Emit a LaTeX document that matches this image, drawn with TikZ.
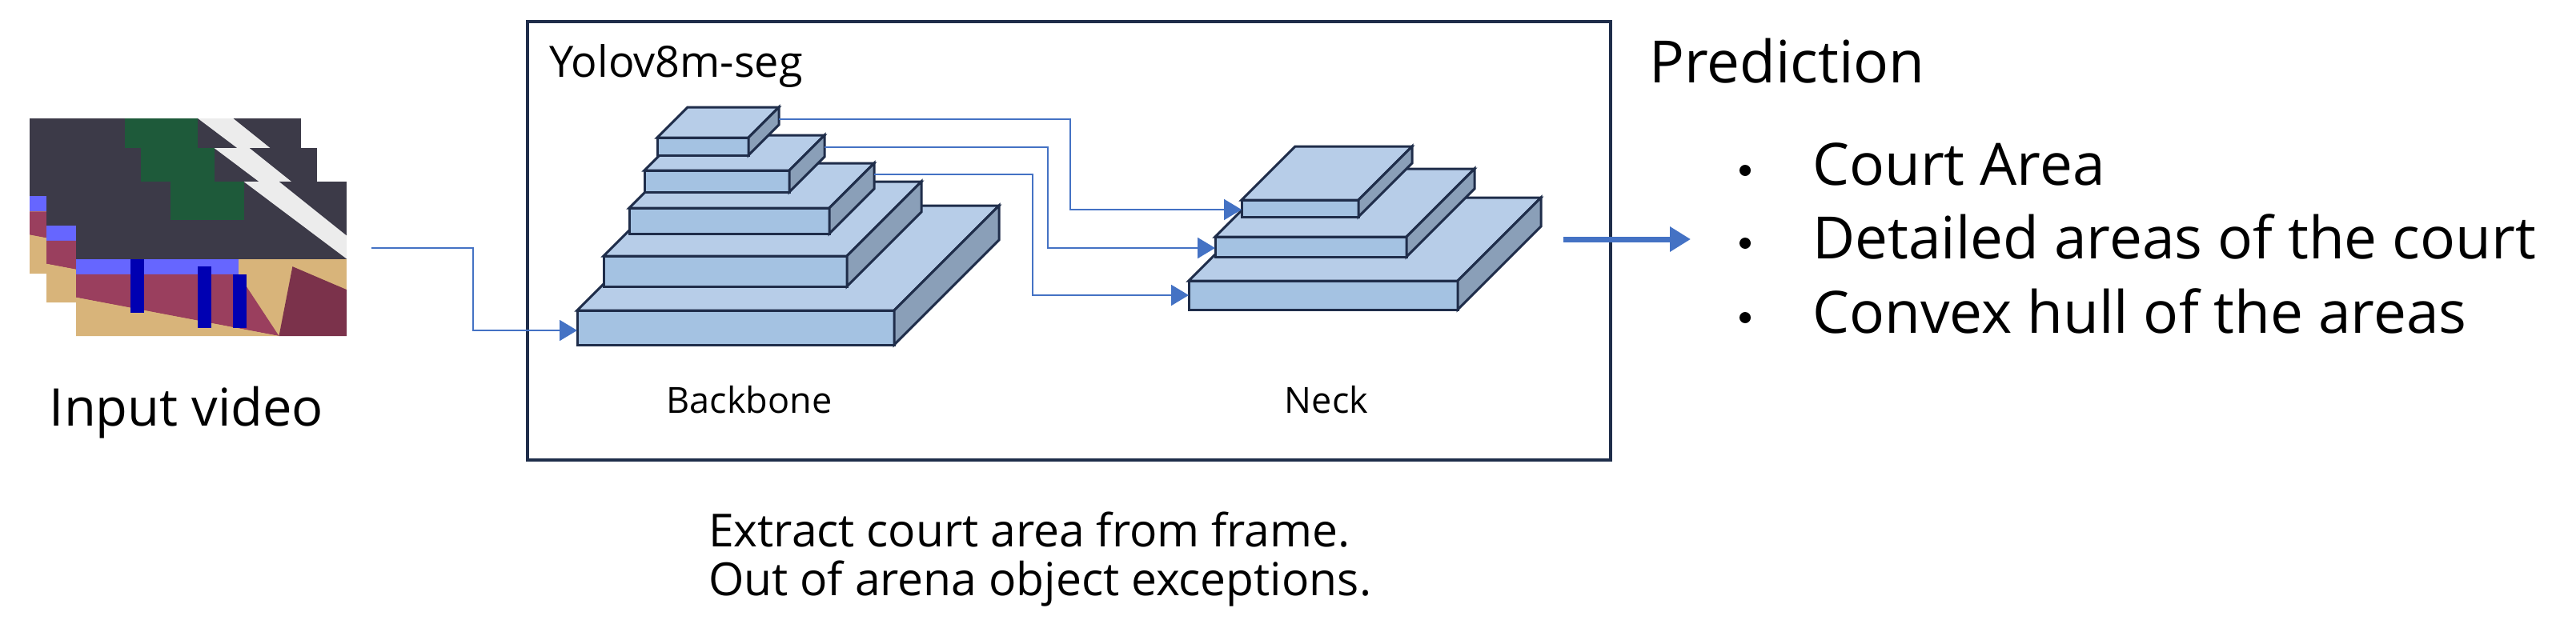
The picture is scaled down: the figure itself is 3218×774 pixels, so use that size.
\documentclass[tikz,border=0pt]{standalone}
\usepackage{fontspec}
\setmainfont{Open Sans}
\usetikzlibrary{arrows.meta}
\definecolor{fr}{HTML}{A4C2E2}
\definecolor{tp}{HTML}{B7CDE8}
\definecolor{sd}{HTML}{8A9FB8}
\definecolor{ol}{HTML}{1F2D4A}
\definecolor{bl}{HTML}{4472C4}
\definecolor{crowd}{HTML}{3C3A48}
\definecolor{court}{HTML}{D8B47A}
\definecolor{maroon}{HTML}{9A3F5E}
\definecolor{grn}{HTML}{1E5A3A}
\newcommand\mycub[5]{% x1 x2 ytop h d
 \filldraw[fill=fr,draw=ol,line width=3pt,line join=miter] (#1,#3) rectangle (#2,#3+#4);
 \filldraw[fill=tp,draw=ol,line width=3pt] (#1,#3) -- (#1+#5,#3-#5) -- (#2+#5,#3-#5) -- (#2,#3) -- cycle;
 \filldraw[fill=sd,draw=ol,line width=3pt] (#2,#3) -- (#2+#5,#3-#5) -- (#2+#5,#3-#5+#4) -- (#2,#3+#4) -- cycle;}
\newcommand\myframe[4]{% x1 y1 x2 y2
 \fill[court] (#1,#2) rectangle (#3,#4);
 \fill[crowd] (#1,#2) rectangle (#3,{#2+0.5*(#4-#2)});
 \fill[grn] ({#1+0.35*(#3-#1)},#2) rectangle ({#1+0.62*(#3-#1)},{#2+0.25*(#4-#2)});
 \fill[white!85!gray] ({#1+0.62*(#3-#1)},#2) -- ({#1+0.75*(#3-#1)},#2) -- (#3,{#2+0.35*(#4-#2)}) -- (#3,{#2+0.5*(#4-#2)}) -- cycle;
 \fill[blue!60!white] (#1,{#2+0.5*(#4-#2)}) rectangle ({#1+0.6*(#3-#1)},{#2+0.6*(#4-#2)});
 \fill[maroon] (#1,{#2+0.6*(#4-#2)}) -- ({#1+0.6*(#3-#1)},{#2+0.6*(#4-#2)}) -- ({#1+0.75*(#3-#1)},#4) -- (#1,{#2+0.75*(#4-#2)}) -- cycle;
 \fill[court] (#1,{#2+0.75*(#4-#2)}) -- ({#1+0.75*(#3-#1)},#4) -- (#1,#4) -- cycle;
 \fill[maroon!80!black] ({#1+0.75*(#3-#1)},#4) -- ({#1+0.8*(#3-#1)},{#2+0.55*(#4-#2)}) -- (#3,{#2+0.7*(#4-#2)}) -- (#3,#4) -- cycle;
 \fill[blue!70!black] ({#1+0.45*(#3-#1)},{#2+0.55*(#4-#2)}) rectangle ({#1+0.5*(#3-#1)},{#2+0.95*(#4-#2)});
 \fill[blue!70!black] ({#1+0.58*(#3-#1)},{#2+0.6*(#4-#2)}) rectangle ({#1+0.63*(#3-#1)},{#2+0.95*(#4-#2)});
 \fill[blue!70!black] ({#1+0.2*(#3-#1)},{#2+0.5*(#4-#2)}) rectangle ({#1+0.25*(#3-#1)},{#2+0.85*(#4-#2)});}
\begin{document}
\begin{tikzpicture}[x=1pt,y=-1pt,
  conn/.style={draw=bl,line width=2pt,-{Triangle[length=22pt,width=26pt]}},
  lab/.style={inner sep=0pt,font=\fontsize{#1}{#1}\selectfont},
  bul/.style={circle,fill=black,inner sep=0pt,minimum size=14pt}]
\useasboundingbox (0,0) rectangle (3218,774);
% frames
\myframe{37}{148}{376}{342}
\myframe{58}{185}{396}{378}
\myframe{95}{227}{433}{420}
\node[lab=65,anchor=center] (iv) at (233,516) {Input video};
\coordinate (vidout) at (464,310);
% main box
\node[draw=ol,line width=3.5pt,minimum width=1353pt,minimum height=548pt,anchor=north west,inner sep=0pt] (box) at (657,25) {};
\node[lab=54,anchor=west] (yolo) at (686,82) {Yolov8m-seg};
% backbone
\mycub{721}{1117}{388}{43}{131}
\mycub{754}{1058}{320}{38}{93}
\mycub{786}{1036}{260}{32}{56}
\mycub{805}{986}{213}{27}{44}
\mycub{821}{935}{172}{22}{38}
\coordinate (bbin) at (721,413);
\coordinate (o1) at (973,149);
\coordinate (o2) at (1030,184);
\coordinate (o3) at (1092,218);
% neck
\mycub{1485}{1821}{351}{36}{104}
\mycub{1518}{1757}{296}{25}{85}
\mycub{1551}{1697}{250}{21}{67}
\coordinate (n1) at (1551,262);
\coordinate (n2) at (1518,310);
\coordinate (n3) at (1485,369);
\node[lab=45] (bb) at (936,500) {Backbone};
\node[lab=45] (nk) at (1657,500) {Neck};
% connectors
\draw[conn] (vidout) -| (591,413) -- (bbin);
\draw[conn] (o1) -| (1337,262) -- (n1);
\draw[conn] (o2) -| (1309,310) -- (n2);
\draw[conn] (o3) -| (1290,369) -- (n3);
\coordinate (outs) at (1953,299);
\coordinate (oute) at (2112,299);
\draw[draw=bl,line width=7pt,-{Triangle[length=26pt,width=30pt]}] (outs) -- (oute);
% prediction
\node[lab=73,anchor=west] (pred) at (2060,76) {Prediction};
\foreach \y/\t [count=\i] in {205/Court Area,296/Detailed areas of the court,389/Convex hull of the areas}{
  \node[bul] (d\i) at (2180,\y+8) {};
  \node[lab=73,anchor=west] (b\i) at (2264,\y) {\t};
}
% bottom text
\node[lab=57,anchor=west] (desc1) at (885,662) {Extract court area from frame.};
\node[lab=57,anchor=west] (desc2) at (885,730) {Out of arena object exceptions.};
\end{tikzpicture}
\end{document}
